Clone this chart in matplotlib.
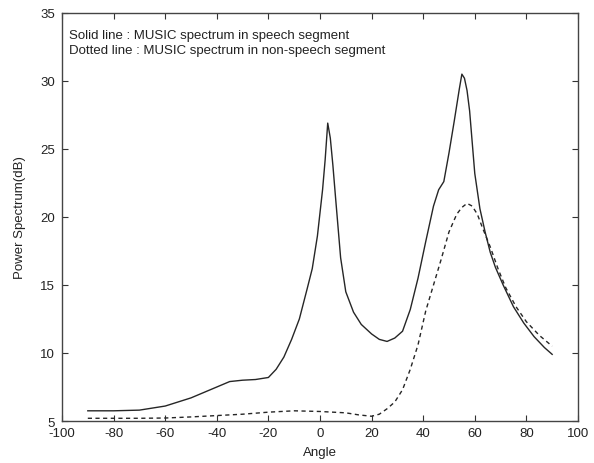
import matplotlib
matplotlib.use("Agg")
import matplotlib.pyplot as plt

# Solid line: MUSIC spectrum in speech segment
solid_angle = [-90, -80, -70, -60, -50, -45, -40, -35, -30, -25, -20, -17, -14, -11, -8, -5, -3, -1,
               1, 2, 3, 4, 5, 6, 8, 10, 13, 16, 20, 23, 26, 29, 32, 35, 38, 41, 44, 46, 48, 50, 52,
               54, 55, 56, 57, 58, 60, 62, 64, 66, 68, 71, 75, 79, 83, 87, 90]
solid_db = [5.75, 5.75, 5.8, 6.1, 6.7, 7.1, 7.5, 7.9, 8.0, 8.05, 8.2, 8.8, 9.7, 11.0, 12.5, 14.7, 16.2, 18.6,
            22.0, 24.2, 26.9, 25.8, 23.8, 21.5, 17.0, 14.5, 13.0, 12.1, 11.4, 11.0, 10.85, 11.1, 11.6, 13.2,
            15.5, 18.2, 20.8, 22.0, 22.6, 24.7, 27.0, 29.4, 30.5, 30.2, 29.3, 27.8, 23.2, 20.6, 18.9, 17.4,
            16.3, 15.0, 13.4, 12.2, 11.2, 10.4, 9.9]

# Dotted line: MUSIC spectrum in non-speech segment
dotted_angle = [-90, -80, -70, -60, -50, -40, -30, -20, -10, 0, 10, 15, 20, 23, 26, 29, 32, 35, 38, 41,
                44, 47, 50, 53, 55, 57, 59, 61, 63, 66, 69, 72, 76, 80, 85, 90]
dotted_db = [5.2, 5.2, 5.2, 5.22, 5.3, 5.4, 5.5, 5.65, 5.75, 5.7, 5.6, 5.45, 5.35, 5.5, 5.9, 6.4, 7.3, 8.8,
             10.6, 13.1, 15.0, 16.9, 18.9, 20.2, 20.7, 21.0, 20.8, 20.2, 19.2, 17.8, 16.2, 14.8, 13.4, 12.3,
             11.3, 10.5]

x_ticks = [-100, -80, -60, -40, -20, 0, 20, 40, 60, 80, 100]
y_ticks = [5, 10, 15, 20, 25, 30, 35]

plt.rcParams['font.family'] = ['Liberation Sans', 'DejaVu Sans']
plt.rcParams['font.size'] = 9.5
plt.rcParams['axes.unicode_minus'] = False

fig = plt.figure(figsize=(5.94, 4.64), dpi=100)
ax = fig.add_axes([0.1044, 0.0905, 0.8686, 0.8795])

line_color = '#262626'
ax.plot(solid_angle, solid_db, color=line_color, lw=1.0, linestyle='-')
ax.plot(dotted_angle, dotted_db, color=line_color, lw=1.0, linestyle=(0, (3, 2.5)))

ax.set_xlim(-100, 100)
ax.set_ylim(5, 35)
ax.set_xticks(x_ticks)
ax.set_yticks(y_ticks)
ax.tick_params(direction='in', top=True, right=True, length=4, width=0.8,
               colors='#333333', labelcolor='#222222')
ax.tick_params(axis='x', pad=4)
ax.tick_params(axis='y', pad=5)
for s in ax.spines.values():
    s.set_color('#444444')
    s.set_linewidth(1.0)

ax.set_xlabel('Angle', color='#222222', labelpad=5)
ax.set_ylabel('Power Spectrum(dB)', color='#222222', labelpad=10)

ax.text(0.013, 0.96, 'Solid line : MUSIC spectrum in speech segment\nDotted line : MUSIC spectrum in non-speech segment',
        transform=ax.transAxes, ha='left', va='top', color='#222222', linespacing=1.35)

fig.savefig('out.png', dpi=100)
